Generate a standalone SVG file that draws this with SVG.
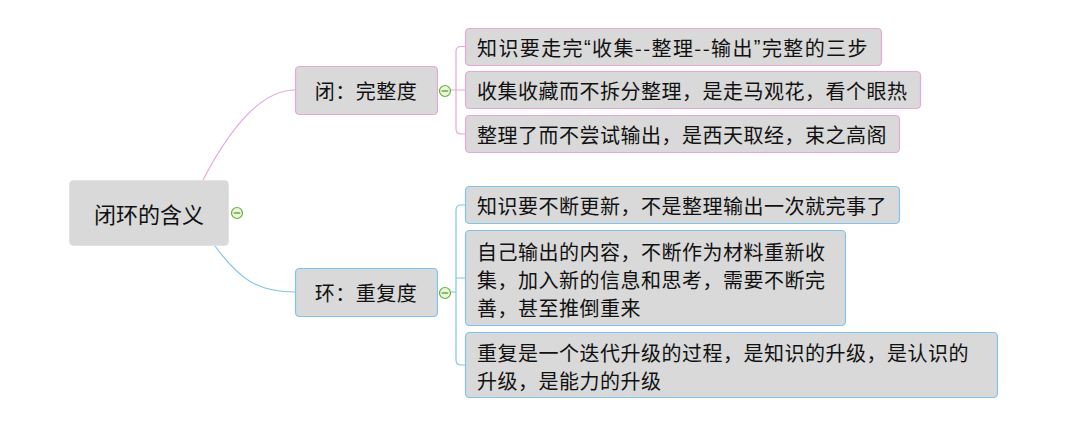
<svg xmlns="http://www.w3.org/2000/svg" width="1066" height="425" viewBox="0 0 1066 425">
<style>
  text { font-family: "Noto Sans CJK SC", "Noto Sans", sans-serif; fill: #111; dominant-baseline: central; }
  .t { font-size: 20px; letter-spacing: 0.5px; }
  .q { font-family: "Liberation Sans", "Noto Sans CJK SC", sans-serif; }
  .root-t { font-size: 22px; }
  .box { fill: #d9d9d9; }
  .root { stroke: #e2e2e2; stroke-width: 1; }
  .pink { stroke: #e6a8d8; stroke-width: 1.2; }
  .blue { stroke: #80c4ee; stroke-width: 1.2; }
  .pl { fill: none; stroke: #e6a8d8; stroke-width: 1.2; }
  .bl { fill: none; stroke: #80c4ee; stroke-width: 1.2; }
  .ico circle { fill: #e8f6dc; stroke: #6aae3a; stroke-width: 1.2; }
  .ico line { stroke: #5a9e2a; stroke-width: 1.3; }
</style>
<defs>
  <g id="minus" class="ico">
    <circle cx="0" cy="0" r="5.5"/>
    <line x1="-3.2" y1="0" x2="3.2" y2="0"/>
  </g>
</defs>
<g id="connectors">
  <path class="pl" d="M203,180 Q250,90 295,90"/>
  <path class="bl" d="M215,246 C240,280 258,292 295,292"/>
  <path class="pl" d="M451,90 H456 M465,46.5 H461 Q456,46.5 456,51.5 V129 Q456,134 461,134 H465 M456,90 H465"/>
  <path class="bl" d="M451,292 H456 M465,205 H461 Q456,205 456,210 V360 Q456,365 461,365 H465 M456,278 H465"/>
</g>
<g id="root">
  <rect class="box root" x="69.5" y="180.5" width="159" height="65" rx="4"/>
  <text class="root-t" x="149" y="213" text-anchor="middle">闭环的含义</text>
  <use href="#minus" x="237" y="213"/>
</g>
<g id="n-close">
  <rect class="box pink" x="295.5" y="66.5" width="142" height="48" rx="4"/>
  <text class="t" x="366" y="90.5" text-anchor="middle">闭：完整度</text>
  <use href="#minus" x="445" y="91"/>
</g>
<g id="n-loop">
  <rect class="box blue" x="295.5" y="268.5" width="142" height="48" rx="4"/>
  <text class="t" x="366" y="292.5" text-anchor="middle">环：重复度</text>
  <use href="#minus" x="445" y="293"/>
</g>
<g id="c1">
  <rect class="box pink" x="465.5" y="28.5" width="416" height="37" rx="4"/>
  <text class="t" x="477" y="47" textLength="391">知识要走完<tspan class="q">“</tspan>收集--整理--输出<tspan class="q">”</tspan>完整的三步</text>
</g>
<g id="c2">
  <rect class="box pink" x="465.5" y="71.5" width="455" height="37" rx="4"/>
  <text class="t" x="477" y="90">收集收藏而不拆分整理，是走马观花，看个眼热</text>
</g>
<g id="c3">
  <rect class="box pink" x="465.5" y="115.5" width="434" height="37" rx="4"/>
  <text class="t" x="477" y="134">整理了而不尝试输出，是西天取经，束之高阁</text>
</g>
<g id="d1">
  <rect class="box blue" x="465.5" y="186.5" width="434" height="37" rx="4"/>
  <text class="t" x="477" y="205">知识要不断更新，不是整理输出一次就完事了</text>
</g>
<g id="d2">
  <rect class="box blue" x="465.5" y="230.5" width="380" height="95" rx="4"/>
  <text class="t" x="477" y="251">自己输出的内容，不断作为材料重新收</text>
  <text class="t" x="477" y="279">集，加入新的信息和思考，需要不断完</text>
  <text class="t" x="477" y="307">善，甚至推倒重来</text>
</g>
<g id="d3">
  <rect class="box blue" x="465.5" y="332.5" width="532" height="65" rx="4"/>
  <text class="t" x="477" y="352">重复是一个迭代升级的过程，是知识的升级，是认识的</text>
  <text class="t" x="477" y="380">升级，是能力的升级</text>
</g>
</svg>
